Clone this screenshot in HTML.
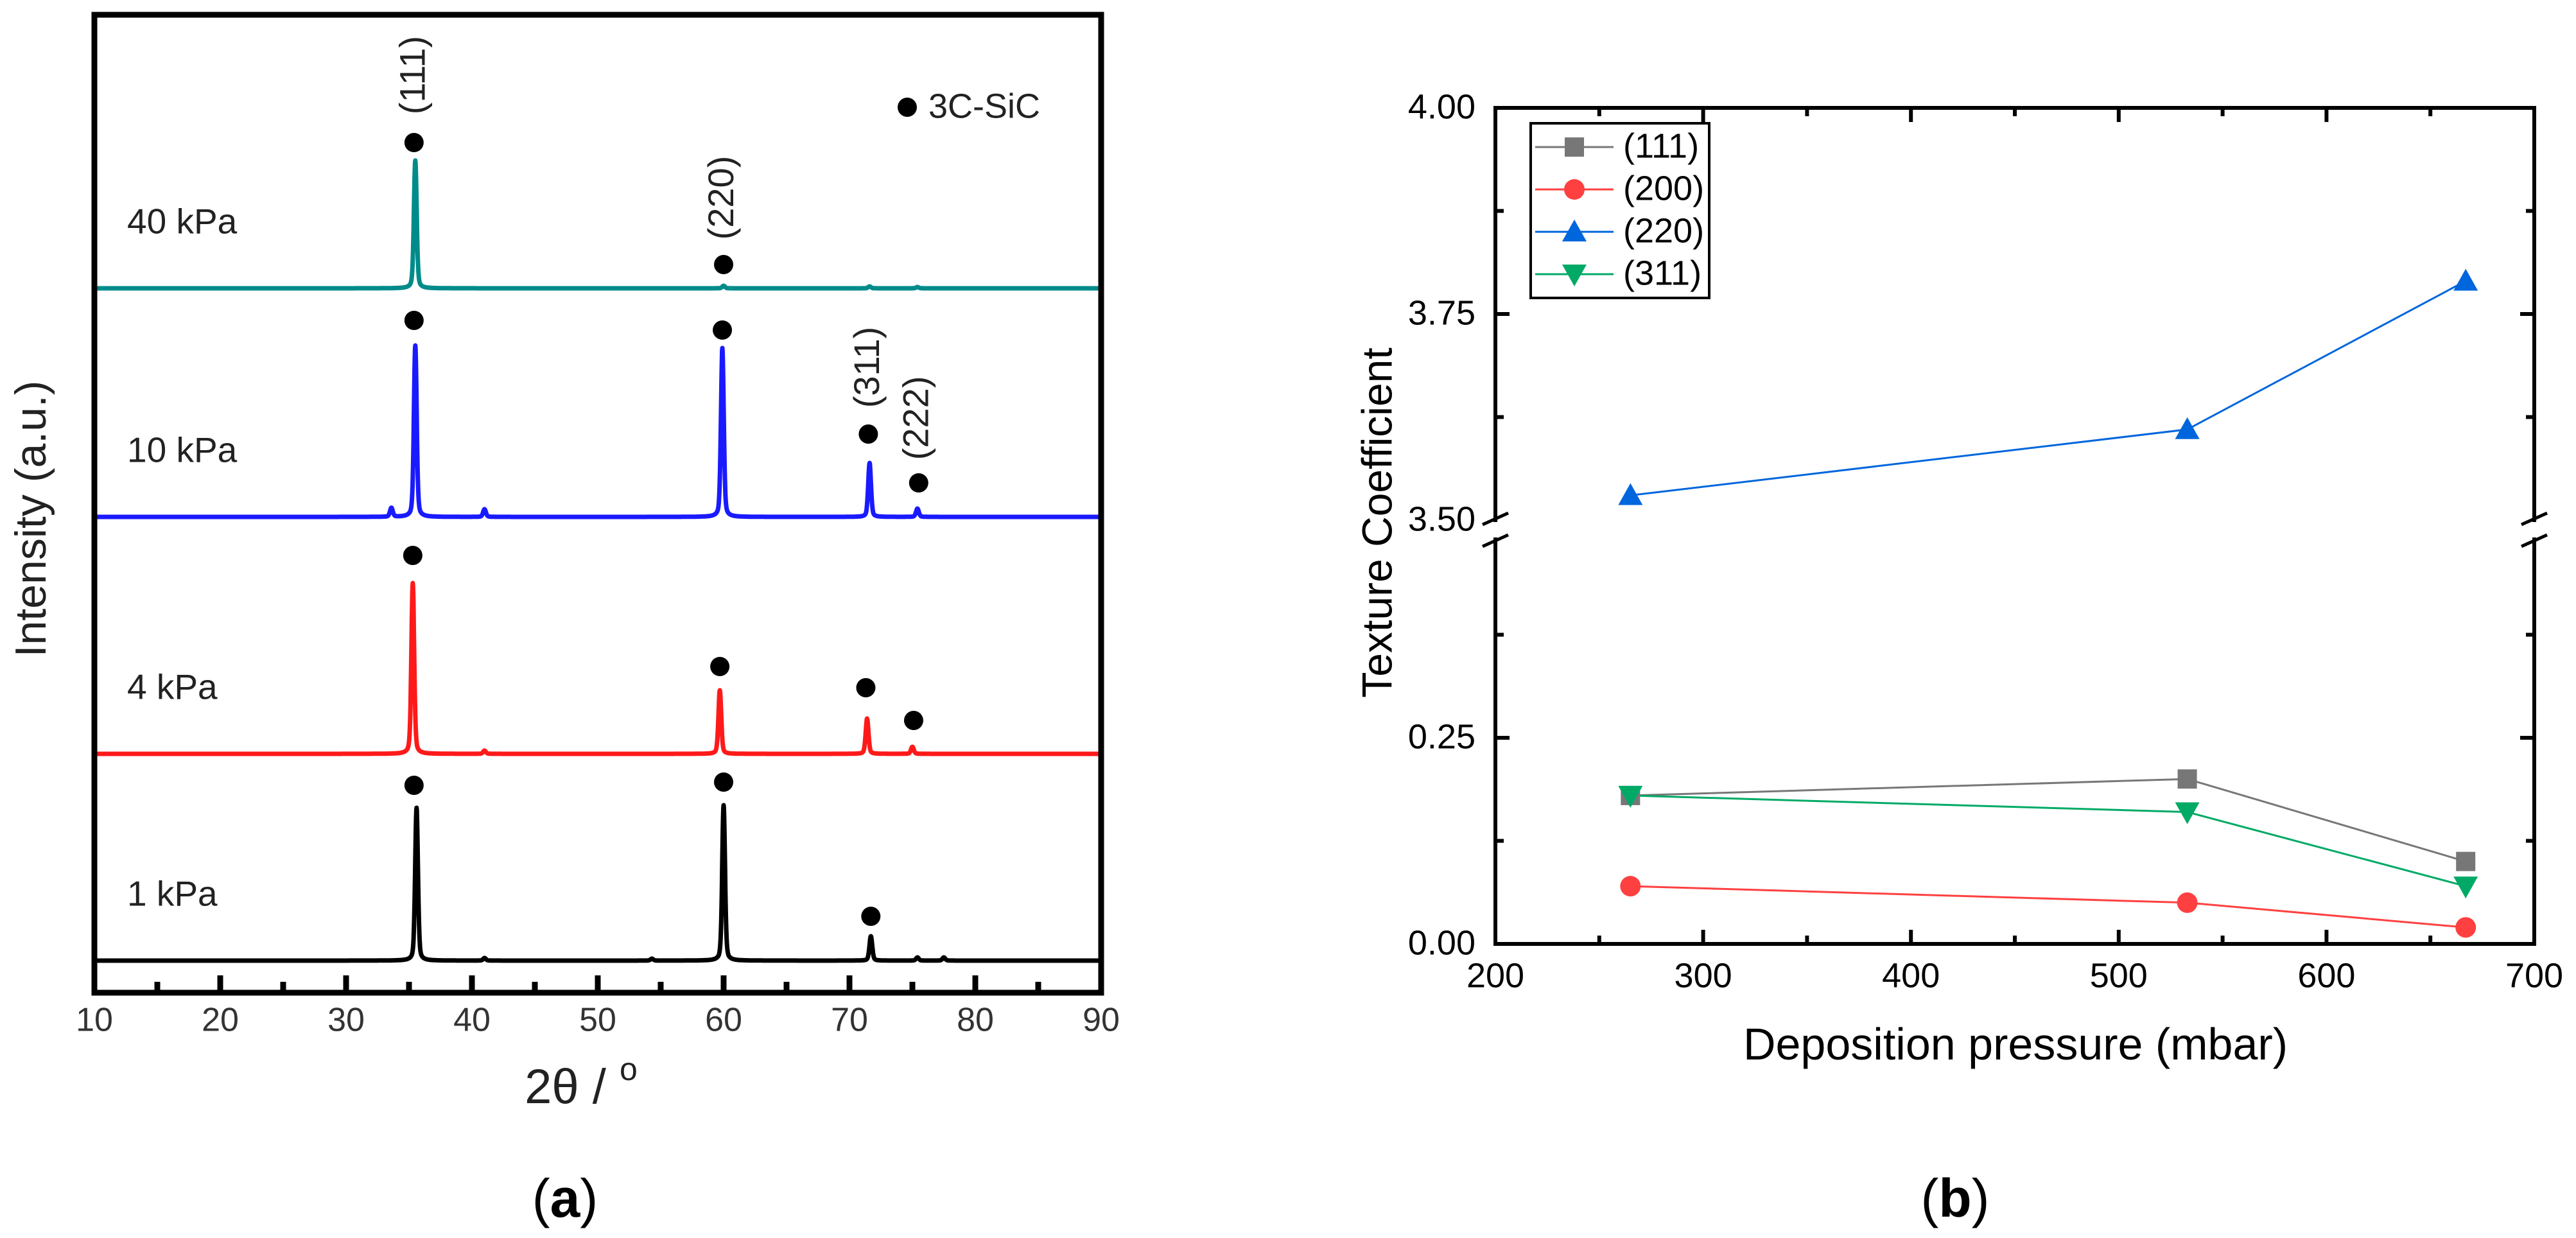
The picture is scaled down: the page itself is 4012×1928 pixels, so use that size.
<!DOCTYPE html>
<html><head><meta charset="utf-8"><style>
html,body{margin:0;padding:0;background:#fff;}
svg{display:block;}
text{font-family:"Liberation Sans",sans-serif;}
</style></head><body>
<svg id="fig" xmlns="http://www.w3.org/2000/svg" width="4012" height="1928" viewBox="0 0 4012 1928">
<rect width="4012" height="1928" fill="#fff"/>
<g id="pa"></g>
<g id="pb"></g>
</svg>
<script>
// ===== Panel (a) data =====
const xrdSeriesNames = ["40 kPa","10 kPa","4 kPa","1 kPa"];
const xrdColors = ["#008b8b","#1a1aff","#ff1a1a","#000000"];
const xrdOffsets = [1048,692,323,1];
const peakCenters40 = [35.5,60.0,71.6,75.4];
const peakHeights40 = [199,4,3,2];
const peakCenters10 = [33.6,35.5,41.0,59.9,71.6,75.4];
const peakHeights10 = [14,267,12,263,84,13];
const peakCenters4 = [35.3,41.0,59.7,71.4,75.0];
const peakHeights4 = [266,5,99,55,11];
const peakCenters1 = [35.6,41.0,54.3,60.0,71.7,75.4,77.5];
const peakHeights1 = [238,4,3,242,38,5,5];
const dotX40 = [35.4,60.0], dotV40 = [227,37];
const dotX10 = [35.4,59.9,71.5,75.5], dotV10 = [306,291,129,53];
const dotX4 = [35.3,59.7,71.3,75.1], dotV4 = [309,136,103,52];
const dotX1 = [35.4,60.0,71.7], dotV1 = [273,278,69];
const hklLabels = ["(111)","(220)","(311)","(222)"];
const hklX = [35.5,60.0,71.6,75.5];
const hklV = [1380,1189,925,846];
const xTicksA = [10,20,30,40,50,60,70,80,90];

// ===== Panel (b) data =====
const pressures = [265,533,667];
const tc111 = [0.18,0.20,0.10];
const tc200 = [0.07,0.05,0.02];
const tc220 = [3.53,3.61,3.79];
const tc311 = [0.18,0.16,0.07];
const xTicksB = [200,300,400,500,600,700];
const yTicksLow = [0.00,0.25];
const yTicksHigh = [3.50,3.75,4.00];
const legendLabels = ["(111)","(200)","(220)","(311)"];

const NS="http://www.w3.org/2000/svg";
function mk(parent,tag,attrs,txt){const e=document.createElementNS(NS,tag);for(const k in attrs)e.setAttribute(k,attrs[k]);if(txt!==undefined)e.textContent=txt;parent.appendChild(e);return e;}

// ---------- Panel (a) ----------
const pa=document.getElementById('pa');
const AL=147,AR=1715,AT=23,AB=1546;
const xa=v=>AL+(v-10)/80*(AR-AL);
const ya=v=>1497-v;
function profile(x,cs,hs){let s=0;for(let i=0;i<cs.length;i++){const d=x-cs[i];const g=Math.exp(-d*d/(2*0.11*0.11));const l=1/(1+(d/0.14)*(d/0.14));s+=hs[i]*(0.7*g+0.3*l);}return s;}
const allC=[peakCenters40,peakCenters10,peakCenters4,peakCenters1];
const allH=[peakHeights40,peakHeights10,peakHeights4,peakHeights1];
const allDX=[dotX40,dotX10,dotX4,dotX1];
const allDV=[dotV40,dotV10,dotV4,dotV1];
for(let s=0;s<4;s++){
  let d="";
  for(let x=10;x<=90.0001;x+=0.02){const v=xrdOffsets[s]+profile(x,allC[s],allH[s]);d+=(d?"L":"M")+xa(x).toFixed(1)+","+ya(v).toFixed(1);}
  const p=mk(pa,'path',{d:d,fill:'none',stroke:xrdColors[s],'stroke-width':7,'stroke-linejoin':'round'});
  
  
  const t=mk(pa,'text',{x:198,y:ya(xrdOffsets[s])-100,'font-size':55,fill:'#222','dominant-baseline':'middle'},xrdSeriesNames[s]);
  
  
  for(let i=0;i<allDX[s].length;i++){
    const c=mk(pa,'circle',{cx:xa(allDX[s][i]),cy:ya(xrdOffsets[s]+allDV[s][i]),r:15,fill:'#000'});
    
    
  }
}
for(let i=0;i<hklLabels.length;i++){
  const cx=xa(hklX[i]),cy=ya(hklV[i]);
  const t=mk(pa,'text',{x:cx,y:cy,'font-size':56,fill:'#222','text-anchor':'middle','dominant-baseline':'middle',transform:`rotate(-90 ${cx} ${cy})`},hklLabels[i]);
  
  
}
const fa=mk(pa,'rect',{x:AL,y:AT,width:AR-AL,height:AB-AT,fill:'none',stroke:'#000','stroke-width':9});

for(let v=10;v<=90;v+=5){
  const maj=(v%10===0);
  if(v===10||v===90)continue;
  mk(pa,'line',{x1:xa(v),x2:xa(v),y1:AB,y2:AB-(maj?27:17),stroke:'#000','stroke-width':9});
}
xTicksA.forEach(v=>{
  const t=mk(pa,'text',{x:xa(v),y:1592,'font-size':52,fill:'#333','text-anchor':'middle','dominant-baseline':'middle'},String(v));
  
  
});
mk(pa,'circle',{cx:1413,cy:167,r:15,fill:'#000',});
mk(pa,'text',{x:1446,y:169,'font-size':54,fill:'#222','dominant-baseline':'middle',},'3C-SiC');
const xt=mk(pa,'text',{x:905,y:1718,'font-size':76,fill:'#222','text-anchor':'middle',});
xt.appendChild(document.createTextNode('2θ / '));
mk(xt,'tspan',{dy:-36,'font-size':50},'o');
mk(pa,'text',{x:53,y:808,'font-size':68,fill:'#222','text-anchor':'middle','dominant-baseline':'middle',transform:'rotate(-90 53 808)',},'Intensity (a.u.)');
const capA=mk(pa,'text',{x:880,y:1895,'font-size':84,fill:'#000','text-anchor':'middle','font-family':'Liberation Serif, serif',});
capA.appendChild(document.createTextNode('('));mk(capA,'tspan',{'font-weight':'bold'},'a');capA.appendChild(document.createTextNode(')'));

// ---------- Panel (b) ----------
const pb=document.getElementById('pb');
const BL=2329,BR=3947,BT=168,BB=1470;
const xb=v=>BL+(v-200)/500*(BR-BL);
const SEG=321;
const yb=v=> v<1 ? BB-v/0.25*SEG : (BT+ (4.0-v)/0.25*SEG);
const BRK1=yb(3.5), BRK2=BRK1+30;
const fw=6;
[[BL,BT,BR,BT],[BL,BB,BR,BB],[BL,BT,BL,BRK1],[BL,BRK2,BL,BB],[BR,BT,BR,BRK1],[BR,BRK2,BR,BB]].forEach(a=>{
  const l=mk(pb,'line',{x1:a[0],y1:a[1],x2:a[2],y2:a[3],stroke:'#000','stroke-width':fw,'stroke-linecap':'square'});
  
});
[BL,BR].forEach(x=>{[BRK1-2,BRK2+2].forEach(y=>{mk(pb,'line',{x1:x-20,y1:y+9,x2:x+20,y2:y-9,stroke:'#000','stroke-width':5,});});});
for(let v=200;v<=700;v+=50){
  if(v===200||v===700)continue;
  const L=(v%100===0)?22:13;
  mk(pb,'line',{x1:xb(v),x2:xb(v),y1:BB,y2:BB-L,stroke:'#000','stroke-width':fw});
  mk(pb,'line',{x1:xb(v),x2:xb(v),y1:BT,y2:BT+L,stroke:'#000','stroke-width':fw});
}
xTicksB.forEach(v=>{
  const t=mk(pb,'text',{x:xb(v),y:1523,'font-size':54,fill:'#000','text-anchor':'middle','dominant-baseline':'middle'},String(v));
  
});
[[0.125,13],[0.25,22],[0.375,13],[3.625,13],[3.75,22],[3.875,13]].forEach(a=>{
  const y=yb(a[0]);
  mk(pb,'line',{x1:BL,x2:BL+a[1],y1:y,y2:y,stroke:'#000','stroke-width':fw});
  mk(pb,'line',{x1:BR,x2:BR-a[1],y1:y,y2:y,stroke:'#000','stroke-width':fw});
});
yTicksLow.concat(yTicksHigh).forEach(v=>{
  const t=mk(pb,'text',{x:2298,y:yb(v)+2,'font-size':54,fill:'#000','text-anchor':'end','dominant-baseline':'middle'},v.toFixed(2));
  
});
const series=[tc111,tc200,tc220,tc311];
const sColors=["#777777","#ff4040","#0066dd","#00aa66"];
const sKeys=["111","200","220","311"];
function marker(g,k,cx,cy,col){
  if(k===0) return mk(g,'rect',{x:cx-15,y:cy-15,width:30,height:30,fill:col});
  if(k===1) return mk(g,'circle',{cx:cx,cy:cy,r:16,fill:col});
  if(k===2) return mk(g,'polygon',{points:`${cx},${cy-19} ${cx+19},${cy+15} ${cx-19},${cy+15}`,fill:col});
  return mk(g,'polygon',{points:`${cx},${cy+19} ${cx+19},${cy-15} ${cx-19},${cy-15}`,fill:col});
}
series.forEach((arr,k)=>{
  const pts=arr.map((v,i)=>xb(pressures[i]).toFixed(1)+','+yb(v).toFixed(1)).join(' ');
  const pl=mk(pb,'polyline',{points:pts,fill:'none',stroke:sColors[k],'stroke-width':3});
  
});
series.forEach((arr,k)=>{
  arr.forEach((v,i)=>{
    const m=marker(pb,k,xb(pressures[i]),yb(v),sColors[k]);
    
    
  });
});
const lg=mk(pb,'g',{});
mk(lg,'rect',{x:2384,y:192,width:278,height:272,fill:'#fff',stroke:'#000','stroke-width':4});
legendLabels.forEach((lab,k)=>{
  const y=229+k*66;
  mk(lg,'line',{x1:2391,x2:2513,y1:y,y2:y,stroke:sColors[k],'stroke-width':3});
  marker(lg,k,2452,y,sColors[k]);
  const t=mk(lg,'text',{x:2528,y:y+2,'font-size':54,fill:'#000','dominant-baseline':'middle'},lab);
  
});
mk(pb,'text',{x:3139,y:1650,'font-size':70,fill:'#000','text-anchor':'middle',},'Deposition pressure (mbar)');
mk(pb,'text',{x:2150,y:814,'font-size':66,fill:'#000','text-anchor':'middle','dominant-baseline':'middle',transform:'rotate(-90 2150 814)',},'Texture Coefficient');
const capB=mk(pb,'text',{x:3045,y:1895,'font-size':84,fill:'#000','text-anchor':'middle','font-family':'Liberation Serif, serif',});
capB.appendChild(document.createTextNode('('));mk(capB,'tspan',{'font-weight':'bold'},'b');capB.appendChild(document.createTextNode(')'));
</script>
</body></html>
